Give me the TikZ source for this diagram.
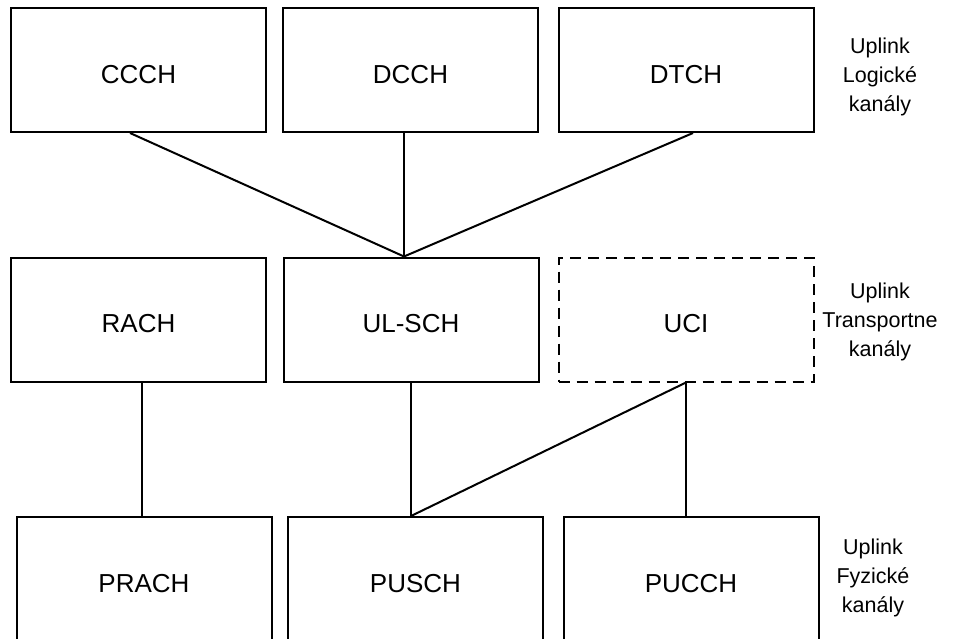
\documentclass[tikz,border=0pt]{standalone}
\usepackage{fontspec}
\setmainfont{Liberation Sans}
\begin{document}
\begin{tikzpicture}[x=1pt,y=-1pt,
  chbox/.style={draw=black,line width=2pt,minimum width=255pt,minimum height=124pt,inner sep=0pt,font=\fontsize{26}{31}\selectfont,fill=white,text height=26.5pt,text depth=0pt},
  dashbox/.style={chbox,dash pattern=on 11pt off 7pt},
  lbl/.style={align=center,font=\fontsize{21.5}{29}\selectfont,inner sep=0pt},
  link/.style={line width=2pt}]
\useasboundingbox (0,0) rectangle (953,638);
\clip (0,0) rectangle (953,638);
\node[chbox] (CCCH) at (138.5,70) {CCCH};
\node[chbox] (DCCH) at (410.5,70) {DCCH};
\node[chbox] (DTCH) at (686,70) {DTCH};
\node[chbox] (RACH) at (138.5,319.5) {RACH};
\node[chbox] (ULSCH) at (411,319.5) {UL-SCH};
\node[dashbox] (UCI) at (686,319.5) {UCI};
\node[chbox] (PRACH) at (144,579) {PRACH};
\node[chbox] (PUSCH) at (415.5,579) {PUSCH};
\node[chbox] (PUCCH) at (691,579) {PUCCH};
\node[lbl] (L1) at (880,77) {Uplink\\Logické\\kanály};
\node[lbl] (L2) at (880,322) {Uplink\\Transportne\\kanály};
\node[lbl] (L3) at (873,578) {Uplink\\Fyzické\\kanály};
\coordinate (hub) at ([xshift=-7pt]ULSCH.north);
\draw[link] ([xshift=-8.5pt]CCCH.south) -- (hub);
\draw[link] ([xshift=-6.5pt]DCCH.south) -- (hub);
\draw[link] ([xshift=7pt]DTCH.south) -- (hub);
\draw[link] ([xshift=3.5pt]RACH.south) -- ([xshift=-2pt]PRACH.north);
\draw[link] (ULSCH.south) -- ([xshift=-4.5pt]PUSCH.north);
\draw[link] (UCI.south) -- ([xshift=-4.5pt]PUSCH.north);
\draw[link] (UCI.south) -- ([xshift=-5pt]PUCCH.north);
\end{tikzpicture}
\end{document}
